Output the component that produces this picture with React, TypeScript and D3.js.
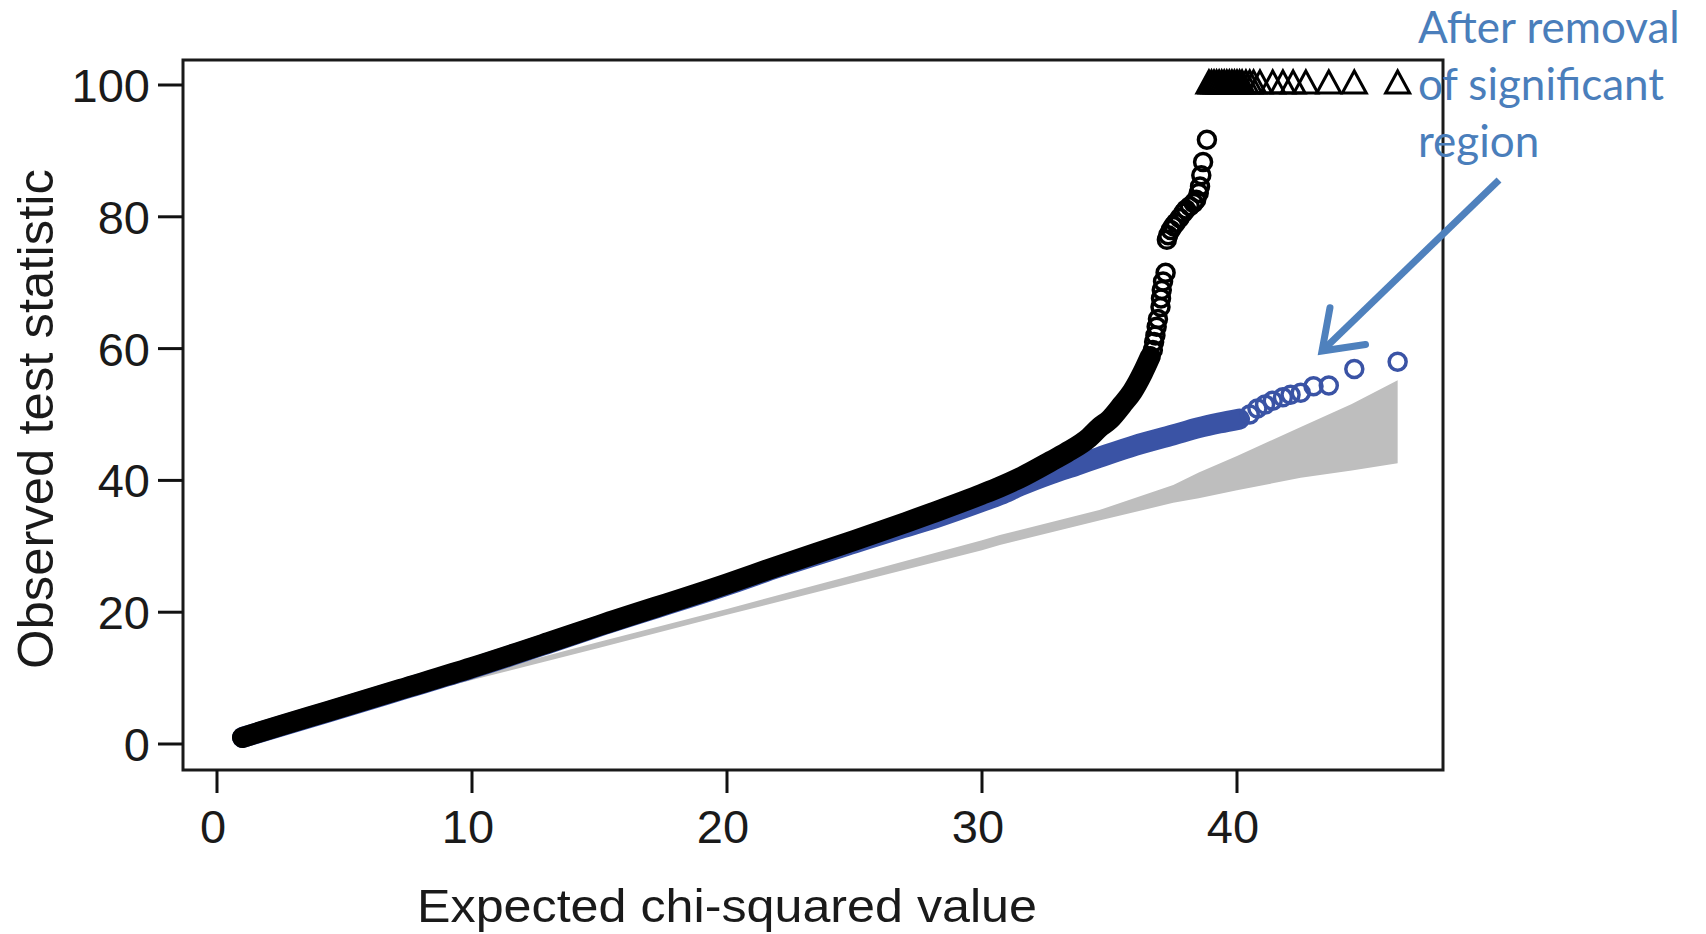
import React from "react";
import * as d3 from "d3";

// ---------- data ----------
const xTicks = [0, 10, 20, 30, 40];
const yTicks = [0, 20, 40, 60, 80, 100];

// null confidence band (grey)
const bandX = [1, 5, 10, 15, 20, 25, 30, 30.7, 34.6, 37.5, 38.5, 40, 42.5, 44.5, 46.3];
const bandLo = [0.8, 4.7, 9.7, 14.6, 19.6, 24.5, 29.4, 30.2, 33.9, 36.6, 37.3, 38.5, 40.4, 41.5, 42.6];
const bandHi = [1.2, 5.3, 10.4, 15.5, 20.5, 25.7, 30.9, 31.7, 35.5, 39.3, 41.2, 43.7, 48.1, 51.6, 55.2];

// all regions: dense (overplotted) part of the black series
const blackDenseX = [1, 2.5, 4.3, 7.2, 10, 13, 15, 20, 22, 25, 27, 28, 30, 30.7, 31.5, 32.7, 33.3, 34.2, 34.6, 35, 35.5, 35.9, 36.3, 36.6];
const blackDenseY = [1.0, 2.8, 4.9, 8.3, 11.6, 15.4, 18.0, 24.3, 27.0, 30.9, 33.6, 35.0, 37.9, 39.0, 40.4, 42.9, 44.2, 46.5, 48.0, 49.2, 51.5, 53.5, 56.3, 58.8];
// black series: sparse tail
const blackTailX = [36.7, 36.75, 36.8, 36.85, 36.9, 37.0, 37.02, 37.05, 37.1, 37.2, 37.25, 37.3, 37.4, 37.5, 37.6, 37.75, 37.9, 38.0, 38.15, 38.3, 38.4, 38.5, 38.55, 38.6, 38.67, 38.82];
const blackTailY = [59.8, 61.0, 62.0, 63.3, 64.5, 66.3, 67.6, 68.9, 70.2, 71.5, 76.5, 77.2, 78.0, 78.6, 79.1, 79.8, 80.6, 81.1, 81.6, 82.1, 82.6, 83.6, 84.6, 86.3, 88.3, 91.7];
// black series: values beyond the axis, drawn as triangles at 100
const capX = [38.9, 39.0, 39.1, 39.2, 39.3, 39.4, 39.5, 39.6, 39.7, 39.8, 39.9, 40.0, 40.1, 40.2, 40.35, 40.5, 40.65, 40.9, 41.4, 41.8, 42.2, 42.7, 43.6, 44.6, 46.3];
const capValue = 100;

// after removal of significant region (blue)
const blueDenseX = [1, 4.3, 7.2, 10, 13, 15, 20, 22, 25, 26.8, 28, 30, 30.7, 31.5, 32.7, 33.7, 34.6, 36, 37.5, 38.5, 39.3, 40.1];
const blueDenseY = [1.0, 4.8, 8.2, 11.5, 15.3, 17.9, 24.1, 26.8, 30.5, 32.7, 34.1, 36.8, 37.8, 39.2, 41.0, 42.3, 43.5, 45.3, 46.9, 48.0, 48.7, 49.3];
const blueTailX = [40.5, 40.8, 41.1, 41.4, 41.8, 42.1, 42.5, 43.0, 43.6, 44.6, 46.3];
const blueTailY = [50.0, 50.9, 51.5, 52.1, 52.6, 53.0, 53.3, 54.3, 54.4, 56.9, 58.0];

const xTitle = "Expected chi-squared value";
const yTitle = "Observed test statistic";
const noteLines = ["After removal", "of significant", "region"];

// ---------- layout ----------
const W = 1706;
const H = 934;
const box = { left: 183, top: 60, right: 1443, bottom: 770 };
const axisFont = "'Liberation Sans', Arial, Helvetica, sans-serif";
const BLUE = "#3a53a5";
const NOTE = "#4a7ebb";

export default function App() {
  const x = d3.scaleLinear().domain([0, 40]).range([217, 1237]);
  const y = d3.scaleLinear().domain([0, 100]).range([744, 85]);

  const bandData = bandX.map((v, i) => ({ x: v, lo: bandLo[i], hi: bandHi[i] }));
  const area = d3
    .area<{ x: number; lo: number; hi: number }>()
    .x((d) => x(d.x))
    .y0((d) => y(d.lo))
    .y1((d) => y(d.hi));

  const line = d3
    .line<[number, number]>()
    .x((d) => x(d[0]))
    .y((d) => y(d[1]))
    .curve(d3.curveMonotoneX);

  const blackDense = blackDenseX.map((v, i) => [v, blackDenseY[i]] as [number, number]);
  const blueDense = blueDenseX.map((v, i) => [v, blueDenseY[i]] as [number, number]);

  const triPath = (cx: number, cy: number) =>
    `M${cx},${cy - 14}L${cx + 12},${cy + 8}L${cx - 12},${cy + 8}Z`;

  // arrow
  const tail = [1499, 180];
  const tip = [1322, 351];
  const dx = tail[0] - tip[0];
  const dy = tail[1] - tip[1];
  const len = Math.hypot(dx, dy);
  const ux = dx / len;
  const uy = dy / len;
  const rot = (a: number) => [ux * Math.cos(a) - uy * Math.sin(a), ux * Math.sin(a) + uy * Math.cos(a)];
  const hl = 44;
  const l1 = rot(0.62);
  const l2 = rot(-0.62);

  return (
    <svg width={W} height={H} style={{ position: "absolute", left: 0, top: 0, background: "#fff" }}>
      {/* grey null band */}
      <path d={area(bandData) || ""} fill="#bebebe" stroke="none" />

      {/* blue series */}
      <path d={line(blueDense) || ""} fill="none" stroke={BLUE} strokeWidth={21} strokeLinecap="round" strokeLinejoin="round" />
      {blueTailX.map((v, i) => (
        <circle key={"bt" + i} cx={x(v)} cy={y(blueTailY[i])} r={8.5} fill="none" stroke={BLUE} strokeWidth={3.5} />
      ))}

      {/* black series */}
      <path d={line(blackDense) || ""} fill="none" stroke="#000" strokeWidth={21} strokeLinecap="round" strokeLinejoin="round" />
      {blackTailX.map((v, i) => (
        <circle key={"kt" + i} cx={x(v)} cy={y(blackTailY[i])} r={8.5} fill="none" stroke="#000" strokeWidth={3.5} />
      ))}
      {capX.map((v, i) => (
        <path key={"tr" + i} d={triPath(x(v), y(capValue))} fill="none" stroke="#000" strokeWidth={3} strokeLinejoin="miter" />
      ))}

      {/* frame */}
      <rect
        x={box.left}
        y={box.top}
        width={box.right - box.left}
        height={box.bottom - box.top}
        fill="none"
        stroke="#1a1a1a"
        strokeWidth={3}
      />

      {/* x axis ticks & labels */}
      {xTicks.map((t) => (
        <g key={"xt" + t}>
          <line x1={x(t)} x2={x(t)} y1={box.bottom} y2={box.bottom + 23} stroke="#111" strokeWidth={3} />
          <text x={x(t) - 4} y={843} textAnchor="middle" fontFamily={axisFont} fontSize={47} fill="#1a1a1a">
            {t}
          </text>
        </g>
      ))}

      {/* y axis ticks & labels */}
      {yTicks.map((t) => (
        <g key={"yt" + t}>
          <line x1={box.left - 25} x2={box.left} y1={y(t)} y2={y(t)} stroke="#111" strokeWidth={3} />
          <text x={150} y={y(t) + 17} textAnchor="end" fontFamily={axisFont} fontSize={47} fill="#1a1a1a">
            {t}
          </text>
        </g>
      ))}

      {/* axis titles */}
      <text
        x={727}
        y={922}
        textAnchor="middle"
        fontFamily={axisFont}
        fontSize={46}
        fill="#1a1a1a"
        textLength={620}
        lengthAdjust="spacingAndGlyphs"
      >
        {xTitle}
      </text>
      <text
        transform="translate(53,419) rotate(-90)"
        textAnchor="middle"
        fontFamily={axisFont}
        fontSize={50}
        fill="#1a1a1a"
        textLength={500}
        lengthAdjust="spacingAndGlyphs"
      >
        {yTitle}
      </text>

      {/* annotation */}
      {noteLines.map((s, i) => (
        <text key={"n" + i} x={1418} y={43 + i * 57} fontFamily="Lato, 'Open Sans', sans-serif" fontSize={44} fill={NOTE}>
          {s}
        </text>
      ))}
      <line x1={tail[0]} y1={tail[1]} x2={tip[0] + ux * 3} y2={tip[1] + uy * 3} stroke="#4f81bd" strokeWidth={7} />
      <path
        d={`M${tip[0] + l1[0] * hl},${tip[1] + l1[1] * hl}L${tip[0]},${tip[1]}L${tip[0] + l2[0] * hl},${tip[1] + l2[1] * hl}`}
        fill="none"
        stroke="#4f81bd"
        strokeWidth={7}
        strokeLinecap="round"
        strokeLinejoin="miter"
      />
    </svg>
  );
}
